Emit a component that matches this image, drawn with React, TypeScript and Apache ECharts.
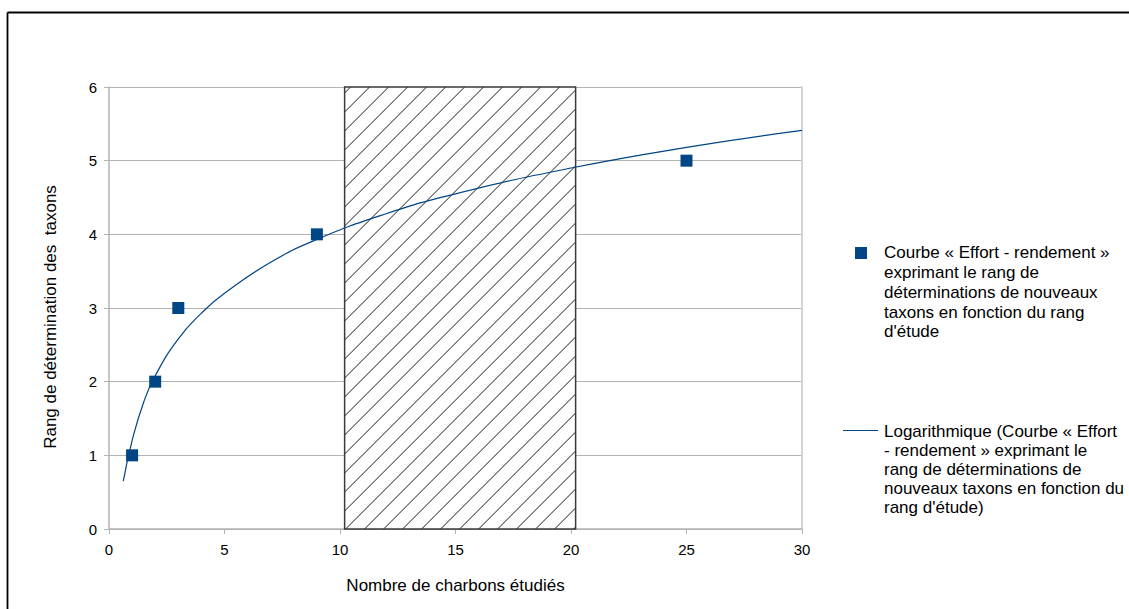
import React, { useEffect, useRef } from "react";
import * as echarts from "echarts";

// Observed points (rang d'étude -> rang de détermination)
const pointX = [1, 2, 3, 9, 25];
const pointY = [1, 2, 3, 4, 5];

// Logarithmic trendline
const trendX = [0.62, 1, 1.5, 2, 3, 4, 5, 7, 9, 12, 15, 20, 25, 30];
const trendY = [0.65, 1.2, 1.72, 2.08, 2.58, 2.93, 3.2, 3.62, 3.93, 4.28, 4.55, 4.9, 5.18, 5.41];

// Hatched zone [xStart, xEnd, yStart, yEnd]
const hatchZone = [10.2, 20.2, 0, 6];

const xTicks = [0, 5, 10, 15, 20, 25, 30];
const yTicks = [0, 1, 2, 3, 4, 5, 6];

const seriesName1 =
  "Courbe « Effort - rendement » exprimant le rang de déterminations de nouveaux taxons en fonction du rang d'étude";
const seriesName2 =
  "Logarithmique (Courbe « Effort - rendement » exprimant le rang de déterminations de nouveaux taxons en fonction du rang d'étude)";

const legend1Lines = [
  "Courbe « Effort - rendement »",
  "exprimant le rang de",
  "déterminations de nouveaux",
  "taxons en fonction du rang",
  "d'étude",
];
const legend2Lines = [
  "Logarithmique (Courbe « Effort",
  "- rendement » exprimant le",
  "rang de déterminations de",
  "nouveaux taxons en fonction du",
  "rang d'étude)",
];

const FONT = '"Liberation Sans", Arial, sans-serif';
const BLUE = "#004586";

export default function App() {
  const ref = useRef<HTMLDivElement>(null);

  useEffect(() => {
    if (!ref.current) return;
    const chart = echarts.init(ref.current, undefined, { renderer: "svg" });

    const option: any = {
      animation: false,
      backgroundColor: "#ffffff",
      textStyle: { fontFamily: FONT },
      grid: { left: 109, top: 87, right: 327, bottom: 80, containLabel: false },
      xAxis: {
        type: "value",
        min: xTicks[0],
        max: xTicks[xTicks.length - 1],
        interval: 5,
        name: "Nombre de charbons étudiés",
        nameLocation: "middle",
        nameGap: 48,
        nameTextStyle: { fontSize: 17, color: "#000", fontFamily: FONT },
        axisLine: { show: true, lineStyle: { color: "#b3b3b3", width: 1.5 } },
        axisTick: { show: true, length: 5, lineStyle: { color: "#b3b3b3" } },
        axisLabel: { fontSize: 15, color: "#000", margin: 13, fontFamily: FONT },
        splitLine: { show: false },
      },
      yAxis: [
        {
          type: "value",
          min: yTicks[0],
          max: yTicks[yTicks.length - 1],
          interval: 1,
          name: "Rang de détermination des  taxons",
          nameLocation: "middle",
          nameGap: 50,
          nameTextStyle: { fontSize: 17, color: "#000", fontFamily: FONT, padding: [0, 18, 0, 0] },
          axisLine: { show: true, lineStyle: { color: "#b3b3b3", width: 1.5 } },
          axisTick: { show: true, length: 5, lineStyle: { color: "#b3b3b3" } },
          axisLabel: { fontSize: 15, color: "#000", margin: 12, fontFamily: FONT },
          splitLine: { show: true, lineStyle: { color: "#b3b3b3", width: 1 } },
        },
        {
          type: "value",
          position: "right",
          min: yTicks[0],
          max: yTicks[yTicks.length - 1],
          interval: 1,
          axisLine: { show: true, lineStyle: { color: "#d3d3d3", width: 2 } },
          axisTick: { show: false },
          axisLabel: { show: false },
          splitLine: { show: false },
        },
      ],
      series: [
        {
          type: "custom",
          name: "zone",
          z: 1,
          data: [hatchZone],
          encode: { x: [0, 1], y: [2, 3] },
          renderItem: (params: any, api: any) => {
            const p0 = api.coord([api.value(0), api.value(3)]);
            const p1 = api.coord([api.value(1), api.value(2)]);
            const L = p0[0], T = p0[1], R = p1[0], B = p1[1];
            const children: any[] = [
              { type: "rect", shape: { x: L, y: T, width: R - L, height: B - T }, style: { fill: "#ffffff" } },
            ];
            const s = 19;
            for (let c = L + T + 6; c < R + B; c += s) {
              const xa = Math.max(L, c - B);
              const xb = Math.min(R, c - T);
              if (xb > xa) {
                children.push({
                  type: "line",
                  shape: { x1: xa, y1: c - xa, x2: xb, y2: c - xb },
                  style: { stroke: "#000", lineWidth: 0.9 },
                });
              }
            }
            children.push({
              type: "rect",
              shape: { x: L, y: T, width: R - L, height: B - T },
              style: { fill: "none", stroke: "#3a3a3a", lineWidth: 1.5 },
            });
            return { type: "group", children };
          },
        },
        {
          type: "line",
          name: seriesName2,
          z: 3,
          data: trendX.map((x, i) => [x, trendY[i]]),
          smooth: true,
          showSymbol: false,
          lineStyle: { color: BLUE, width: 1.2 },
          itemStyle: { color: BLUE },
        },
        {
          type: "scatter",
          name: seriesName1,
          z: 4,
          symbol: "rect",
          symbolSize: 12,
          data: pointX.map((x, i) => [x, pointY[i]]),
          itemStyle: { color: BLUE, opacity: 1 },
        },
      ],
      graphic: [
        { type: "line", shape: { x1: 7.5, y1: 12.5, x2: 1129, y2: 12.5 }, style: { stroke: "#000", lineWidth: 1.8 } },
        { type: "line", shape: { x1: 7.5, y1: 12.5, x2: 7.5, y2: 609 }, style: { stroke: "#000", lineWidth: 1.8 } },
        { type: "rect", shape: { x: 855, y: 247, width: 12, height: 12 }, style: { fill: BLUE } },
        {
          type: "text",
          x: 884,
          y: 243,
          style: { text: legend1Lines.join("\n"), font: `17px ${FONT}`, fill: "#000", lineHeight: 19.75 },
        },
        { type: "line", shape: { x1: 843, y1: 430.5, x2: 878, y2: 430.5 }, style: { stroke: BLUE, lineWidth: 1.2 } },
        {
          type: "text",
          x: 884,
          y: 422,
          style: { text: legend2Lines.join("\n"), font: `17px ${FONT}`, fill: "#000", lineHeight: 19.1 },
        },
      ],
    };

    chart.setOption(option);
    return () => chart.dispose();
  }, []);

  return (
    <div
      ref={ref}
      style={{ position: "fixed", left: 0, top: 0, width: 1129, height: 609, background: "#fff" }}
    />
  );
}
